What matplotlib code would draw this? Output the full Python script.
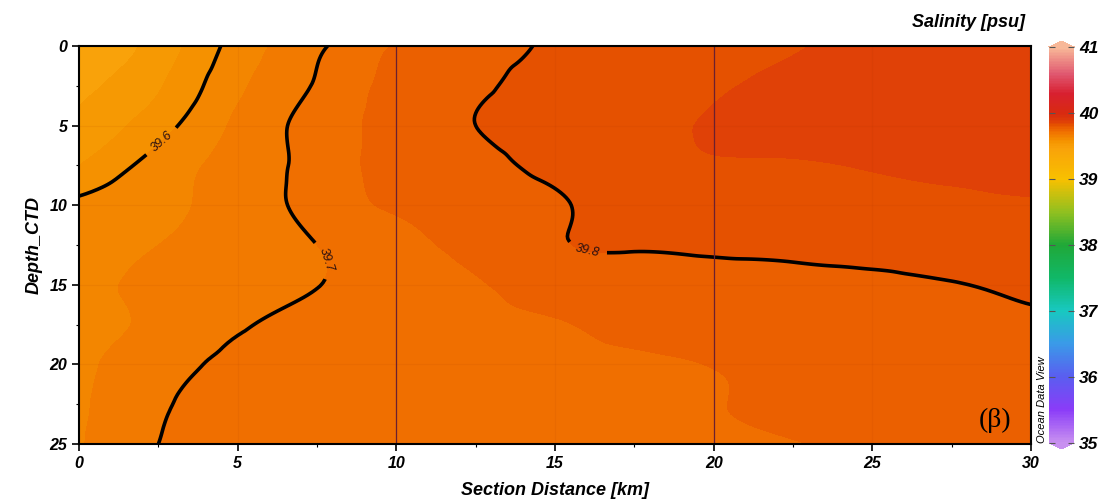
import numpy as np
import matplotlib
matplotlib.use('Agg')
import matplotlib.pyplot as plt
import matplotlib.tri as mtri
from matplotlib.colors import LinearSegmentedColormap, Normalize
from matplotlib.cm import ScalarMappable

plt.rcParams['font.family'] = ['Liberation Sans', 'DejaVu Sans']

dist_km = [0, 2.5, 5, 7.5, 10, 12.5, 15, 17.5, 20, 22.5, 25, 27.5, 30]
depth_m = [0, 2.5, 5, 7.5, 10, 12.5, 15, 17.5, 20, 22.5, 25]
salinity = [
    [39.47, 39.52, 39.62, 39.69, 39.752, 39.765, 39.815, 39.835, 39.84, 39.848, 39.86, 39.87, 39.87],
    [39.49, 39.545, 39.64, 39.705, 39.765, 39.79, 39.83, 39.84, 39.845, 39.86, 39.87, 39.88, 39.88],
    [39.51, 39.58, 39.66, 39.72, 39.77, 39.80, 39.83, 39.84, 39.855, 39.87, 39.88, 39.885, 39.885],
    [39.55, 39.62, 39.67, 39.72, 39.765, 39.78, 39.82, 39.835, 39.845, 39.845, 39.855, 39.865, 39.875],
    [39.612, 39.64, 39.67, 39.72, 39.755, 39.765, 39.79, 39.83, 39.83, 39.832, 39.835, 39.84, 39.845],
    [39.63, 39.65, 39.67, 39.70, 39.735, 39.765, 39.795, 39.806, 39.81, 39.815, 39.82, 39.825, 39.835],
    [39.64, 39.66, 39.68, 39.699, 39.72, 39.745, 39.77, 39.775, 39.78, 39.785, 39.79, 39.798, 39.81],
    [39.64, 39.66, 39.695, 39.71, 39.72, 39.74, 39.748, 39.762, 39.775, 39.78, 39.785, 39.79, 39.793],
    [39.64, 39.68, 39.71, 39.715, 39.72, 39.73, 39.738, 39.742, 39.752, 39.765, 39.775, 39.78, 39.78],
    [39.64, 39.695, 39.71, 39.715, 39.72, 39.725, 39.73, 39.738, 39.748, 39.758, 39.765, 39.77, 39.775],
    [39.645, 39.70, 39.71, 39.715, 39.72, 39.72, 39.725, 39.73, 39.74, 39.748, 39.76, 39.765, 39.77],
]

line_levels = [39.6, 39.7, 39.8]
fill_levels = np.arange(39.40, 39.96, 0.05)
stations_km = [10, 20]
label_spots = [(2.6, 6.0), (7.8, 13.4), (16.0, 12.95)]
cbar_ticks = [35, 36, 37, 38, 39, 40, 41]

# ODV-like rainbow
odv_vals = [35.0, 35.5, 36.0, 36.5, 37.0, 37.5, 38.0, 38.5, 39.0, 39.475, 39.575,
            39.675, 39.725, 39.775, 39.825, 39.875, 40.0, 40.3, 40.6, 41.0]
odv_cols = ['#c890f0', '#8a3cf8', '#5a5ef0', '#3a9ae8', '#18c8c0', '#10b868', '#20a838',
            '#90c020', '#f8c000', '#f9a20a', '#f59400', '#f27c00', '#f07000', '#eb6100',
            '#e55000', '#df4008', '#d82a10', '#d82030', '#e05870', '#f8b898']
cmap = LinearSegmentedColormap.from_list(
    'odv', [((v - 35) / 6, c) for v, c in zip(odv_vals, odv_cols)])
cmap.set_under('#c890f0')
cmap.set_over('#f8b898')
norm = Normalize(35, 41)

X, Z = np.meshgrid(dist_km, depth_m)
tri = mtri.Triangulation(X.ravel(), Z.ravel())
refiner = mtri.UniformTriRefiner(tri)
tri_f, sal_f = refiner.refine_field(np.array(salinity).ravel(), subdiv=4)

fig = plt.figure(figsize=(11.07, 5.04), dpi=100)
ax = fig.add_axes([0.0714, 0.119, 0.86, 0.7897])

ax.tricontourf(tri_f, sal_f, levels=fill_levels, cmap=cmap, norm=norm, extend='both')
cs = ax.tricontour(tri_f, sal_f, levels=line_levels, colors='black', linewidths=2.6)
labels = ax.clabel(cs, fmt='%.1f', fontsize=9, manual=label_spots, inline=True, inline_spacing=8)
for t in labels:
    t.set_fontstyle('italic')
    t.set_color('#2a1010')
    t.set_rotation(-t.get_rotation())

for s in stations_km:
    ax.axvline(s, color='#6a2030', lw=0.9)
ax.grid(color='#a03000', alpha=0.08, lw=0.8)

ax.set_xlim(0, 30)
ax.set_ylim(25, 0)
ax.set_xticks(range(0, 31, 5))
ax.set_xticks(np.arange(0, 30.1, 2.5), minor=True)
ax.set_yticks(range(0, 26, 5))
ax.set_yticks(np.arange(0, 25.1, 2.5), minor=True)
ax.tick_params(which='major', length=5, width=1.2, labelsize=11.5)
ax.tick_params(which='minor', length=2.5, width=0.8)
for lab in ax.get_xticklabels() + ax.get_yticklabels():
    lab.set_fontweight('bold')
    lab.set_fontstyle('italic')
for sp in ax.spines.values():
    sp.set_linewidth(1.5)

ax.set_xlabel('Section Distance [km]', fontsize=13, fontweight='bold', fontstyle='italic', labelpad=8)
ax.set_ylabel('Depth_CTD', fontsize=13, fontweight='bold', fontstyle='italic', labelpad=5)

ax.text(0.962, 0.06, '(β)', transform=ax.transAxes, fontsize=20,
        family='Liberation Serif', ha='center', va='center')

fig.text(0.926, 0.956, 'Salinity [psu]', ha='right', va='center',
         fontsize=13, fontweight='bold', fontstyle='italic')
fig.text(0.9415, 0.121, 'Ocean Data View', rotation=90, ha='center', va='bottom',
         fontsize=8, fontstyle='italic')

cax = fig.add_axes([0.9476, 0.1091, 0.0226, 0.8095])
cb = fig.colorbar(ScalarMappable(norm=norm, cmap=cmap), cax=cax, extend='both',
                  extendfrac=0.015, ticks=cbar_ticks)
cb.outline.set_visible(False)
cax.tick_params(direction='in', left=True, right=True, length=4, width=0.8,
                color='#555555', labelsize=12.5)
for lab in cax.get_yticklabels():
    lab.set_fontweight('bold')
    lab.set_fontstyle('italic')

fig.savefig('out.png', dpi=100)
